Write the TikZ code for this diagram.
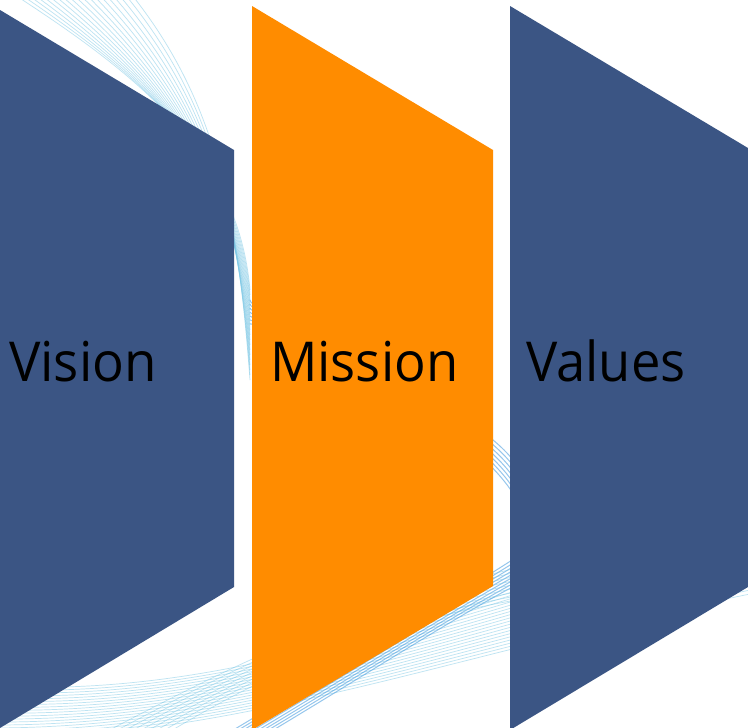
\documentclass[tikz,border=0pt]{standalone}
\usepackage{fontspec}
\setmainfont{Open Sans}
\definecolor{navy}{HTML}{3B5584}
\definecolor{orng}{HTML}{FF8C00}
\definecolor{wavelt}{HTML}{7CC8E6}
\definecolor{wavedk}{HTML}{2E8FDB}
\begin{document}
\begin{tikzpicture}[x=1pt,y=-1pt,
  lbl/.style={anchor=base west, inner sep=0pt, font=\fontsize{55}{60}\selectfont, text=black},
  wv/.style={draw=wavelt, line width=0.7pt, opacity=0.5},
  wvd/.style={draw=wavedk, line width=1pt, opacity=0.5},
  panelblue/.style={fill=navy},
  panelorange/.style={fill=orng}]
\useasboundingbox (0,0) rectangle (748,728);
\fill[white] (0,0) rectangle (748,728);
% top-left waves
\foreach \i in {0,...,18} {
  \draw[wv] (15+6.5*\i,-5) .. controls (130+5*\i,70+2*\i) and (238,150+4*\i) .. (250,290+5*\i);
}
\foreach \i in {0,...,6} {
  \draw[wvd] (250,300+4*\i) .. controls (253,320) and (480,400+3*\i) .. (520,470+6*\i);
}
% bottom waves
\foreach \i in {0,...,18} {
  \draw[wv] (-10,686+3*\i) .. controls (250,700+2*\i) and (450,600+3*\i) .. (760,520+4*\i);
}
\foreach \i in {0,...,8} {
  \draw[wvd] (225+5*\i,735) .. controls (350+5*\i,660) and (450+4*\i,600) .. (520+3*\i,555+2*\i);
}
\foreach \i in {0,...,8} {
  \draw[wv] (100+8*\i,735) .. controls (300,630+3*\i) and (450,560+3*\i) .. (760,530+6*\i);
}
% panels
\fill[panelblue]   (0,10) -- (234,150) -- (234,587) -- (0,728) -- cycle;
\fill[panelorange] (252,6) -- (493,150) -- (493,586) -- (252,730) -- cycle;
\fill[panelblue]   (510,6) -- (748,148) -- (748,587) -- (510,730) -- cycle;
% labels
\node[lbl] (vision)  at (9,381)   {\scalebox{0.96}[1]{Vision}};
\node[lbl] (mission) at (270,381) {\scalebox{0.955}[1]{Mission}};
\node[lbl] (values)  at (526,381) {\scalebox{0.955}[1]{Values}};
\end{tikzpicture}
\end{document}
